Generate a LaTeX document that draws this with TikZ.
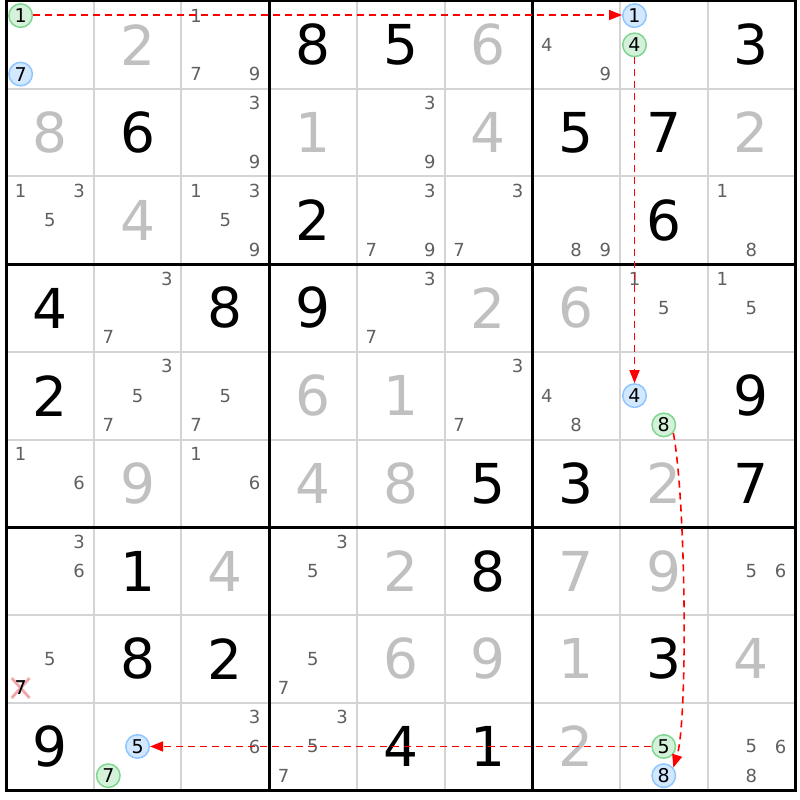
\documentclass[tikz,border=0pt]{standalone}
\usepackage{fontspec}
\setmainfont{DejaVu Sans}
\usetikzlibrary{arrows.meta,shapes.misc}
\definecolor{thingrid}{HTML}{D4D4D4}
\definecolor{solvedc}{HTML}{C0C0C0}
\definecolor{pencilc}{HTML}{606060}
\definecolor{bluefill}{HTML}{D2E8FF}
\definecolor{bluedraw}{HTML}{90C6FF}
\definecolor{greenfill}{HTML}{D4F2DA}
\definecolor{greendraw}{HTML}{80D690}
\definecolor{crossc}{HTML}{F4A4AC}
\definecolor{linkred}{HTML}{FF0000}
\newcommand\Gv[3]{\node[given] (n#1#2) at ({6+(#2+0.5)*87.7},{1+(#1+0.5)*87.7}) {#3};}
\newcommand\Sv[3]{\node[solved] (n#1#2) at ({6+(#2+0.5)*87.7},{1+(#1+0.5)*87.7}) {#3};}
\newcommand\Pm[3]{\foreach \d in {#3}{\node[pencil] (p#1#2\d) at ({6+#2*87.7+(mod(\d-1,3)*2+1)*87.7/6},{1+#1*87.7+(floor((\d-1)/3)*2+1)*87.7/6}) {\d};}}
\newcommand\Pc[5]{\node[pencil,#4] (#5) at ({6+#2*87.7+(mod(#3-1,3)*2+1)*87.7/6},{1+#1*87.7+(floor((#3-1)/3)*2+1)*87.7/6}) {#3};}
\begin{document}
\begin{tikzpicture}[x=1pt,y=-1pt,
  given/.style={inner sep=0pt,text=black,font=\fontsize{55}{60}\selectfont},
  solved/.style={inner sep=0pt,text=solvedc,font=\fontsize{55}{60}\selectfont},
  pencil/.style={inner sep=0pt,text=pencilc,font=\fontsize{18}{20}\selectfont},
  bcirc/.style={circle,draw=bluedraw,fill=bluefill,line width=1.5pt,minimum size=23.5pt,text=black,font=\fontsize{19}{20}\selectfont},
  gcirc/.style={circle,draw=greendraw,fill=greenfill,line width=1.5pt,minimum size=23.5pt,text=black,font=\fontsize{19}{20}\selectfont},
  crossed/.style={cross out,draw=crossc,line width=2.8pt,minimum width=15pt,minimum height=17pt},
  crossdigit/.style={inner sep=0pt,text=black,font=\fontsize{19}{20}\selectfont},
  thinline/.style={draw=thingrid,line width=2pt},
  thickline/.style={draw=black,line width=3pt},
  arr/.style={color=linkred,line width=1.6pt,dash pattern=on 7pt off 5pt,-{Triangle[length=13pt,width=10pt]}}]
\fill[white] (0,0) rectangle (800,800);
\useasboundingbox (0,0) rectangle (800,800);
% grid
\foreach \i in {1,2,4,5,7,8}{
  \draw[thinline] ({6+\i*87.7},1) -- ({6+\i*87.7},790.3);
  \draw[thinline] (6,{1+\i*87.7}) -- (795.3,{1+\i*87.7});
}
\foreach \i in {0,3,6,9}{
  \draw[thickline] ({6+\i*87.7},-0.5) -- ({6+\i*87.7},791.8);
  \draw[thickline] (4.5,{1+\i*87.7}) -- (796.8,{1+\i*87.7});
}
% givens
\Gv{0}{3}{8}\Gv{0}{4}{5}\Gv{0}{8}{3}
\Gv{1}{1}{6}\Gv{1}{6}{5}\Gv{1}{7}{7}
\Gv{2}{3}{2}\Gv{2}{7}{6}
\Gv{3}{0}{4}\Gv{3}{2}{8}\Gv{3}{3}{9}
\Gv{4}{0}{2}\Gv{4}{8}{9}
\Gv{5}{5}{5}\Gv{5}{6}{3}\Gv{5}{8}{7}
\Gv{6}{1}{1}\Gv{6}{5}{8}
\Gv{7}{1}{8}\Gv{7}{2}{2}\Gv{7}{7}{3}
\Gv{8}{0}{9}\Gv{8}{4}{4}\Gv{8}{5}{1}
% solved
\Sv{0}{1}{2}\Sv{0}{5}{6}
\Sv{1}{0}{8}\Sv{1}{3}{1}\Sv{1}{5}{4}\Sv{1}{8}{2}
\Sv{2}{1}{4}
\Sv{3}{5}{2}\Sv{3}{6}{6}
\Sv{4}{3}{6}\Sv{4}{4}{1}
\Sv{5}{1}{9}\Sv{5}{3}{4}\Sv{5}{4}{8}\Sv{5}{7}{2}
\Sv{6}{2}{4}\Sv{6}{4}{2}\Sv{6}{6}{7}\Sv{6}{7}{9}
\Sv{7}{4}{6}\Sv{7}{5}{9}\Sv{7}{6}{1}\Sv{7}{8}{4}
\Sv{8}{6}{2}
% pencil marks
\Pm{0}{2}{1,7,9}\Pm{0}{6}{4,9}
\Pm{1}{2}{3,9}\Pm{1}{4}{3,9}
\Pm{2}{0}{1,3,5}\Pm{2}{2}{1,3,5,9}\Pm{2}{4}{3,7,9}\Pm{2}{5}{3,7}\Pm{2}{6}{8,9}\Pm{2}{8}{1,8}
\Pm{3}{1}{3,7}\Pm{3}{4}{3,7}\Pm{3}{7}{1,5}\Pm{3}{8}{1,5}
\Pm{4}{1}{3,5,7}\Pm{4}{2}{5,7}\Pm{4}{5}{3,7}\Pm{4}{6}{4,8}
\Pm{5}{0}{1,6}\Pm{5}{2}{1,6}
\Pm{6}{0}{3,6}\Pm{6}{3}{3,5}\Pm{6}{8}{5,6}
\Pm{7}{0}{5}\Pm{7}{3}{5,7}
\Pm{8}{2}{3,6}\Pm{8}{3}{3,5,7}\Pm{8}{8}{5,6,8}
% crossed candidate: pink X under a black 7
\Pc{7}{0}{7}{crossed}{xb}
\node[crossdigit] (x7) at (xb) {7};
% circled candidates
\Pc{0}{0}{1}{gcirc}{g1}
\Pc{0}{0}{7}{bcirc}{b7}
\Pc{0}{7}{1}{bcirc}{b1}
\Pc{0}{7}{4}{gcirc}{g4}
\Pc{4}{7}{4}{bcirc}{b4}
\Pc{4}{7}{8}{gcirc}{g8}
\Pc{8}{7}{5}{gcirc}{g5}
\Pc{8}{7}{8}{bcirc}{b8}
\Pc{8}{1}{5}{bcirc}{b5}
\Pc{8}{1}{7}{gcirc}{g7}
% links
\draw[arr] ([yshift=0.6pt]g1.east) -- ([yshift=0.6pt]b1.west);
\draw[arr] (g4) -- (b4);
\draw[arr] (g8.-40) .. controls (686,500) and (688,720) .. (b8.40);
\draw[arr] (g5) -- (b5);
\end{tikzpicture}
\end{document}
